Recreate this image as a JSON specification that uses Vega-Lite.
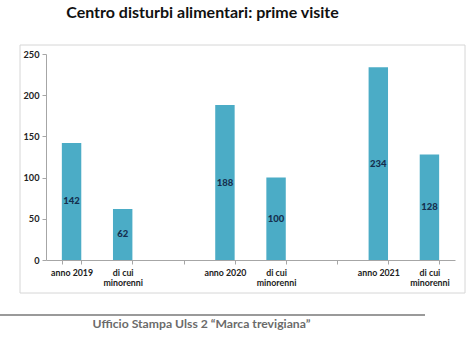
{
  "$schema": "https://vega.github.io/schema/vega-lite/v6.json",
  "width": 409,
  "height": 206,
  "autosize": "none",
  "padding": {"left": 46, "top": 54, "right": 19, "bottom": 88},
  "background": "white",
  "title": {
    "text": "Centro disturbi alimentari: prime visite",
    "font": "Lato",
    "fontSize": 16,
    "fontWeight": "bold",
    "color": "#111111",
    "anchor": "middle",
    "dx": -48,
    "offset": 24
  },
  "config": {
    "view": {"stroke": null},
    "font": "Lato"
  },
  "data": {
    "values": [
      {"categoria": "anno 2019", "visite": 142},
      {"categoria": "di cui minorenni 2019", "visite": 62},
      {"categoria": "anno 2020", "visite": 188},
      {"categoria": "di cui minorenni 2020", "visite": 100},
      {"categoria": "anno 2021", "visite": 234},
      {"categoria": "di cui minorenni 2021", "visite": 128}
    ]
  },
  "resolve": {"scale": {"x": "independent"}, "axis": {"x": "independent"}},
  "layer": [
    {
      "data": {"values": [{"cornice": "quadro"}]},
      "layer": [
        {
          "mark": {"type": "rect", "fill": null, "fillOpacity": 0, "stroke": "#d6d6d6", "strokeWidth": 1},
          "encoding": {
            "x": {"datum": -26, "type": "quantitative", "scale": {"domain": [0, 409], "nice": false, "zero": false}, "axis": null},
            "x2": {"datum": 419},
            "y": {"datum": 260.9, "type": "quantitative"},
            "y2": {"datum": -40.05}
          }
        },
        {
          "mark": {"type": "rule", "color": "#9a9a9a", "strokeWidth": 2},
          "encoding": {
            "x": {"datum": -46, "type": "quantitative"},
            "x2": {"datum": 379},
            "y": {"datum": -66.7, "type": "quantitative"}
          }
        }
      ]
    },
    {
      "layer": [
        {
          "mark": {"type": "bar", "color": "#4bacc6"},
          "encoding": {
            "x": {
              "field": "categoria",
              "type": "nominal",
              "scale": {
                "domain": ["anno 2019", "di cui minorenni 2019", "gap1", "anno 2020", "di cui minorenni 2020", "gap2", "anno 2021", "di cui minorenni 2021"],
                "paddingInner": 0.62,
                "paddingOuter": 0.31
              },
              "axis": {
                "orient": "bottom",
                "title": "Ufficio Stampa Ulss 2 “Marca trevigiana”",
                "titleFontSize": 12.2,
                "titleFontWeight": "bold",
                "titleColor": "#6b6b6b",
                "titlePadding": 30,
                "titleX": 155,
                "titleAlign": "center",
                "labelAngle": 0,
                "labelFontSize": 8.8,
                "labelFontWeight": "bold",
                "labelColor": "#222222",
                "labelPadding": 4,
                "labelExpr": "!isString(datum.value) ? '' : (indexof(datum.value, 'di cui') == 0 ? ['di cui', 'minorenni'] : (indexof(datum.value, 'gap') == 0 ? '' : datum.value))",
                "tickBand": "extent",
                "tickColor": "#a6a6a6",
                "tickSize": 4,
                "domainColor": "#a6a6a6",
                "grid": false
              }
            },
            "y": {
              "field": "visite",
              "type": "quantitative",
              "scale": {"domain": [0, 250], "nice": false},
              "axis": {
                "title": null,
                "values": [0, 50, 100, 150, 200, 250],
                "labelFontSize": 9.2,
                "labelFontWeight": "bold",
                "labelColor": "#222222",
                "labelPadding": 3,
                "tickColor": "#a6a6a6",
                "tickSize": 4,
                "domainColor": "#a6a6a6",
                "gridColor": "#bfbfbf",
                "gridOpacity": 1
              }
            }
          }
        },
        {
          "transform": [{"calculate": "datum.visite / 2", "as": "meta"}],
          "mark": {"type": "text", "fontSize": 9.5, "fontWeight": 900, "color": "#15304f", "baseline": "middle"},
          "encoding": {
            "x": {"field": "categoria", "type": "nominal"},
            "y": {"field": "meta", "type": "quantitative"},
            "text": {"field": "visite", "type": "quantitative"}
          }
        }
      ]
    }
  ]
}
